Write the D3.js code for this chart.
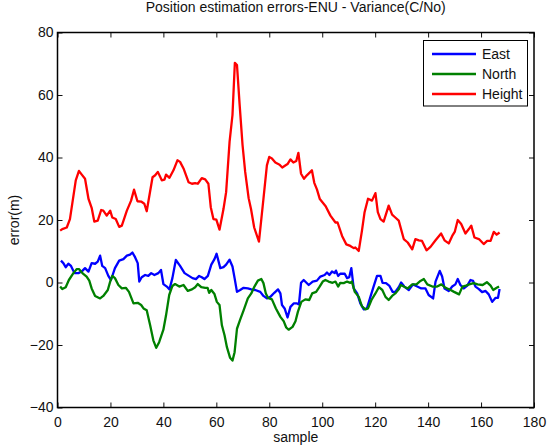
<!DOCTYPE html>
<html>
<head>
<meta charset="utf-8">
<script src="https://cdn.jsdelivr.net/npm/d3@7"></script>
<style>
  body { margin: 0; background: #fff; }
  svg { display: block; font-family: "Liberation Sans", Arial, sans-serif; }
</style>
</head>
<body>
<svg id="chart" width="553" height="447"></svg>
<script>
// values
const xTicks = [0, 20, 40, 60, 80, 100, 120, 140, 160, 180];
const yTicks = [-40, -20, 0, 20, 40, 60, 80];
const seriesNames = ["East", "North", "Height"];
const seriesColors = ["#0000ff", "#008000", "#ff0000"];

const eastSample = [1.3, 2.2, 3.1, 4.1, 5.1, 6.4, 7.9, 9.1, 10.4, 11.7, 12.9, 14.2, 15.2, 16.1, 16.9, 18, 19.2, 20.2, 21.7, 23.3,
  24.9, 26.2, 27.4, 28.3, 29.3, 30.3, 30.9, 31.8, 33.1, 34.3, 35.4, 36.6, 38.1, 39.1, 40, 41.3, 42.3, 43.4, 44.7, 46.3,
  48, 49.5, 51, 52.3, 53.5, 54.5, 55.5, 56.8, 58.1, 59.3, 60.1, 61.5, 62.7, 63.7, 65, 66.1, 66.9, 67.8, 69, 70.3,
  71.9, 73.2, 74.7, 76.6, 77.8, 79.1, 80.4, 81.9, 83.3, 84.2, 84.8, 85.8, 86.9, 88, 89.2, 90.5, 91.2, 92, 93, 94.9,
  96.4, 98, 99.3, 100.9, 101.8, 102.7, 103.7, 104.7, 105.2, 106, 106.8, 108.5, 109.4, 110.2, 111, 111.9, 113.2, 114.4, 115.7, 116.9,
  118.2, 119.4, 120.7, 122, 122.8, 124.1, 125.4, 126.6, 127.6, 128.9, 129.8, 131, 132.7, 134.3, 135.9, 137.4, 139, 140.2, 141.9, 142.8,
  144.4, 145.3, 146.2, 147.8, 149.1, 150.3, 151.2, 152.2, 153.5, 154.8, 156, 157, 157.9, 159.2, 160.4, 161.7, 162.9, 164.2, 165.5, 166.4, 167];
const eastError = [7.0, 6.2, 4.9, 6.0, 5.3, 3.0, 3.0, 3.5, 4.6, 3.5, 6.2, 6.0, 6.7, 8.6, 5.3, 4.6, 2.1, 0.8, 4.6, 7.0,
  7.5, 8.6, 8.9, 9.6, 8.1, 6.2, 0.3, 1.7, 2.4, 2.1, 3.0, 2.4, 3.0, 4.0, -0.5, -1.3, -2.2, 1.4, 7.2, 5.3,
  3.0, 2.2, 1.4, 1.1, 2.1, 1.7, 1.1, 2.1, 5.7, 7.5, 9.2, 4.6, 4.9, 5.7, 7.3, 5.1, 1.4, -3.0, -2.4, -1.7,
  -1.9, -2.2, -2.4, -3.0, -4.3, -5.1, -4.6, -3.3, -2.2, -3.5, -7.2, -8.3, -11.2, -7.8, -6.7, -6.7, -7.0, -0.1, 0.8, -0.8,
  0.3, 0.6, 1.9, 2.4, 3.2, 2.4, 3.5, 3.0, 3.8, 2.1, 2.8, 2.8, 1.4, 1.7, 4.6, -1.9, -3.5, -6.7, -8.6, -8.3,
  -4.6, -1.3, 2.1, 2.1, -0.1, -0.2, -1.1, -3.0, -3.0, -1.5, 0.0, -1.3, -2.4, -0.6, -1.3, -1.9, -1.9, -4.0, -5.1, 0.3,
  3.7, 1.9, -1.9, -2.7, -1.3, -0.6, 1.1, -0.8, -1.9, -1.0, 0.8, 0.5, -1.3, -2.1, -3.1, -2.7, -3.8, -6.2, -4.9, -4.9, -2.1];

const northSample = [1, 1.8, 3.1, 4.3, 6, 7.3, 8.1, 9.4, 11, 12, 12.9, 14.2, 16.1, 17.3, 19, 19.9, 20.7, 21.7, 23, 24.3,
  25.8, 27, 28.7, 30.3, 31.6, 32.5, 33.7, 35, 36.2, 37.3, 38.4, 40, 41, 42.2, 43.4, 44.4, 46, 47.6, 49.2, 50.8,
  52, 53, 54.3, 55.8, 56.7, 57.3, 58.1, 59.3, 60.2, 61.2, 62.1, 63.1, 64, 65.2, 66.1, 66.9, 67.8, 69, 70.3, 71.9,
  73.2, 74.4, 75.7, 77, 77.8, 78.7, 79.5, 81, 82.5, 84.2, 85.4, 86.4, 87.3, 88.8, 89.9, 90.8, 92.1, 93.6, 95.1, 96.2,
  97.7, 98.9, 100.2, 101.2, 102.4, 103.9, 105, 106, 106.8, 108.1, 109.4, 110.6, 111.2, 112.3, 113.8, 115, 116.3, 117.3, 118.6, 120.1,
  121.4, 122.7, 123.9, 125.1, 126.4, 127.6, 128.9, 129.7, 130.8, 132.3, 134, 135.6, 137.1, 138.4, 139.7, 141.6, 143.4, 145, 146.6, 148.5,
  149.8, 151.7, 153, 154.3, 155.5, 157.2, 158.7, 160.6, 162.2, 163.6, 164.6, 165.9, 166.8];
const northError = [-1.3, -2.1, -1.5, 0.8, 3.0, 4.3, 4.3, 3.0, 1.9, 0.6, -1.9, -4.3, -5.1, -4.3, -2.4, 0.3, 2.1, 1.4, -0.8, -1.9,
  -1.7, -3.0, -6.7, -6.5, -7.2, -8.3, -8.9, -13.7, -18.5, -20.9, -19.1, -15.1, -10.5, -4.0, -1.1, -0.5, -1.3, -0.8, -2.7, -2.2,
  -1.5, -0.5, -1.5, -1.7, -1.7, -3.3, -2.4, -3.7, -6.2, -7.2, -13.7, -16.9, -20.7, -24.1, -25.0, -22.3, -14.8, -11.9, -8.9, -5.1,
  -3.5, -1.3, 0.6, 1.1, -0.2, -3.5, -4.9, -5.4, -8.3, -11.0, -12.3, -14.4, -15.1, -14.2, -12.4, -9.4, -6.2, -5.4, -5.6, -3.5,
  -3.0, -1.5, 0.3, 0.8, 0.3, -0.1, 0.3, -1.3, -0.1, -0.2, 0.3, -0.1, 0.3, -3.0, -4.6, -7.6, -8.6, -8.3, -5.6, -3.5,
  -1.5, -2.4, -4.6, -5.6, -4.3, -3.5, -2.2, -0.8, -1.3, -1.9, -0.6, -0.6, 0.5, 1.1, -0.6, -1.3, -1.3, -0.6, -1.7, -2.4,
  -3.0, -3.8, -1.3, -1.0, -0.6, -0.2, -0.6, -0.8, 0.1, -1.0, -2.4, -1.7, -1.3];

const heightSample = [1, 1.8, 3.5, 4.7, 6.9, 8.1, 9.1, 10.4, 11.7, 12.9, 13.9, 15.2, 16.5, 17.3, 18.6, 19.9, 20.7, 22, 23.3, 24.3,
  26.2, 27.8, 28.9, 30.2, 31.6, 32.8, 33.7, 35.9, 36.9, 37.9, 39.4, 40.4, 41, 42.3, 43.8, 45.3, 46.3, 47.6, 49.5, 50.8,
  52, 53, 54.5, 55.8, 57, 57.9, 58.9, 60, 61.2, 62.7, 63.7, 65, 66.1, 67, 67.8, 68.8, 69.9, 70.9, 72.2, 73.1,
  74.3, 76.1, 77.8, 79.1, 80, 81, 82.3, 83.9, 84.9, 86.9, 88, 89.1, 90.2, 91, 92, 93.1, 94.2, 96.1, 97, 98,
  99.1, 101.3, 103.1, 105, 105.8, 107.5, 109.1, 110.6, 111.9, 112.5, 113.8, 115, 116, 117.3, 118.8, 120.1, 121, 122, 123.2, 125.1,
  126.4, 127.6, 128.9, 130.8, 132.3, 134, 135.2, 136.5, 137.7, 139.4, 140.9, 142.8, 144.9, 146.2, 147.8, 149.1, 150.1, 151.2, 152.5, 154.1,
  155.4, 156.3, 157.5, 159.2, 161, 162.3, 163.6, 164.8, 165.9, 167];
const heightError = [16.6, 17.1, 17.6, 20.3, 32.7, 35.7, 34.6, 33.2, 26.8, 23.9, 19.5, 19.8, 23.2, 23.0, 21.4, 23.0, 20.8, 20.3, 17.8, 18.2,
  23.0, 26.2, 29.7, 26.0, 25.9, 25.2, 22.8, 33.7, 34.3, 35.4, 32.7, 32.9, 34.5, 33.5, 35.9, 39.1, 38.6, 36.5, 32.1, 31.6,
  31.8, 31.6, 33.4, 33.0, 31.6, 24.1, 20.3, 20.1, 16.9, 23.5, 28.9, 45.0, 53.6, 70.3, 69.6, 56.9, 44.0, 35.4, 27.0, 23.5,
  17.6, 13.1, 26.8, 37.5, 40.2, 39.7, 38.4, 37.7, 36.8, 37.9, 39.4, 38.4, 38.9, 41.5, 34.8, 33.2, 34.3, 35.9, 31.9, 29.8,
  26.7, 24.4, 21.4, 19.2, 19.2, 14.9, 12.2, 11.7, 11.0, 11.2, 10.1, 16.5, 22.5, 26.8, 26.2, 28.6, 22.5, 20.3, 19.5, 24.6,
  21.7, 20.8, 19.8, 13.9, 12.8, 10.6, 13.9, 13.5, 13.3, 10.3, 11.4, 13.5, 15.7, 13.5, 12.5, 14.9, 16.3, 20.0, 18.7, 15.7,
  17.1, 18.2, 14.4, 13.9, 12.3, 13.3, 13.3, 16.2, 15.3, 16.0];

const svg = d3.select("#chart");
const margin = { top: 32.5, right: 19, bottom: 39.5, left: 57.5 };
const width = 553, height = 447;
const tickLen = 5;
const fontSize = "14px";
const ink = "#111";

const x = d3.scaleLinear().domain([0, 180]).range([margin.left, width - margin.right]);
const y = d3.scaleLinear().domain([-40, 80]).range([height - margin.bottom, margin.top]);

const series = [
  { name: seriesNames[0], color: seriesColors[0], xs: eastSample, ys: eastError },
  { name: seriesNames[1], color: seriesColors[1], xs: northSample, ys: northError },
  { name: seriesNames[2], color: seriesColors[2], xs: heightSample, ys: heightError }
];

const line = d3.line()
  .x(d => x(d[0]))
  .y(d => y(d[1]));

svg.append("g")
  .selectAll("path")
  .data(series)
  .join("path")
  .attr("d", s => line(s.xs.map((v, i) => [v, s.ys[i]])))
  .attr("fill", "none")
  .attr("stroke", s => s.color)
  .attr("stroke-width", 2.3)
  .attr("stroke-linejoin", "round");

// axes, MATLAB style: ticks inward on all four sides
function styleAxis(g) {
  g.attr("font-family", null);
  g.select(".domain").remove();
  g.selectAll(".tick line").attr("stroke", ink).attr("stroke-width", 1);
  g.selectAll(".tick text").attr("fill", ink).style("font-size", fontSize);
}

svg.append("g")
  .attr("transform", `translate(0,${y(-40)})`)
  .call(d3.axisBottom(x).tickValues(xTicks).tickSize(-tickLen).tickPadding(9.5))
  .call(styleAxis);

svg.append("g")
  .attr("transform", `translate(0,${y(80)})`)
  .call(d3.axisTop(x).tickValues(xTicks).tickSize(-tickLen).tickFormat(""))
  .call(styleAxis);

svg.append("g")
  .attr("transform", `translate(${x(0)},0)`)
  .call(d3.axisLeft(y).tickValues(yTicks).tickSize(-tickLen).tickPadding(4))
  .call(styleAxis);

svg.append("g")
  .attr("transform", `translate(${x(180)},0)`)
  .call(d3.axisRight(y).tickValues(yTicks).tickSize(-tickLen).tickFormat(""))
  .call(styleAxis);

svg.append("rect")
  .attr("x", x(0))
  .attr("y", y(80))
  .attr("width", x(180) - x(0))
  .attr("height", y(-40) - y(80))
  .attr("fill", "none")
  .attr("stroke", "#000")
  .attr("stroke-width", 1.5);

// titles
svg.append("text")
  .attr("x", (x(0) + x(180)) / 2)
  .attr("y", 12)
  .attr("text-anchor", "middle")
  .attr("fill", ink)
  .style("font-size", fontSize)
  .text("Position estimation errors-ENU - Variance(C/No)");

svg.append("text")
  .attr("x", (x(0) + x(180)) / 2)
  .attr("y", 442)
  .attr("text-anchor", "middle")
  .attr("fill", ink)
  .style("font-size", fontSize)
  .text("sample");

svg.append("text")
  .attr("transform", `translate(19,${(y(80) + y(-40)) / 2}) rotate(-90)`)
  .attr("text-anchor", "middle")
  .attr("fill", ink)
  .style("font-size", fontSize)
  .text("error(m)");

// legend
const legend = svg.append("g");
legend.append("rect")
  .attr("x", 423.5)
  .attr("y", 40.5)
  .attr("width", 104)
  .attr("height", 65.5)
  .attr("fill", "#fff")
  .attr("stroke", "#000")
  .attr("stroke-width", 1);

const items = legend.selectAll(".item")
  .data(series)
  .join("g")
  .attr("class", "item")
  .attr("transform", (d, i) => `translate(0,${54 + i * 20})`);

items.append("line")
  .attr("x1", 432)
  .attr("x2", 476)
  .attr("stroke", d => d.color)
  .attr("stroke-width", 2.3);

items.append("text")
  .attr("x", 482)
  .attr("dy", "0.35em")
  .attr("fill", ink)
  .style("font-size", fontSize)
  .text(d => d.name);
</script>
</body>
</html>
